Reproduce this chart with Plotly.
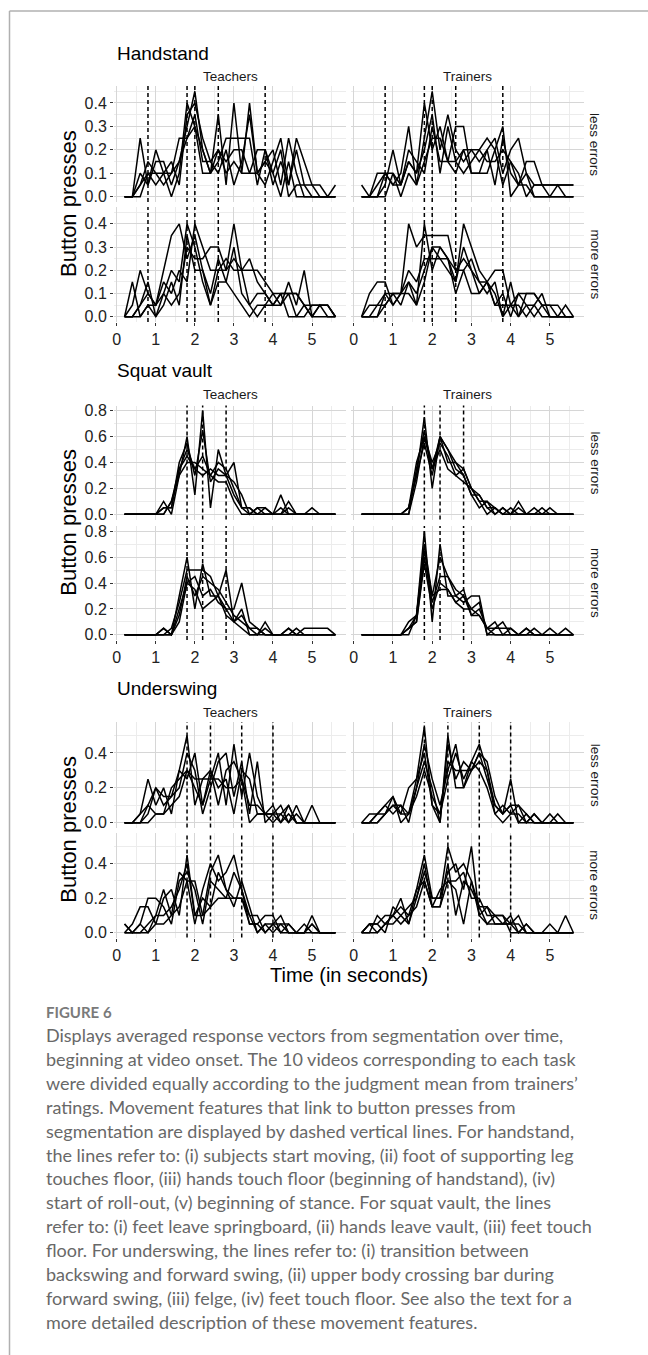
import plotly.graph_objects as go

# ---------------- data ----------------
TIME = [0.2, 0.4, 0.6, 0.8, 1.0, 1.2, 1.4, 1.6, 1.8, 2.0, 2.2, 2.4, 2.6, 2.8,
        3.0, 3.2, 3.4, 3.6, 3.8, 4.0, 4.2, 4.4, 4.6, 4.8, 5.0, 5.2, 5.4, 5.6]

TASKS = ["Handstand", "Squat vault", "Underswing"]
GROUPS = ["Teachers", "Trainers"]
ERRORS = ["less errors", "more errors"]

FEATURE_LINES = {
    "Handstand": [0.8, 1.8, 2.0, 2.6, 3.8],
    "Squat vault": [1.8, 2.2, 2.8],
    "Underswing": [1.8, 2.4, 3.2, 4.0],
}

X_TICKS = [0, 1, 2, 3, 4, 5]
Y_TICKS = {
    "Handstand": [0.0, 0.1, 0.2, 0.3, 0.4],
    "Squat vault": [0.0, 0.2, 0.4, 0.6, 0.8],
    "Underswing": [0.0, 0.2, 0.4],
}

hand_teachers_less = [
    [0, 0, 0.25, 0.05, 0.2, 0.1, 0, 0.1, 0.4, 0.3, 0.1, 0.1, 0.35, 0.05, 0.4, 0.1, 0.4, 0.1, 0.15, 0.2, 0.05, 0.25, 0.1, 0, 0, 0, 0, 0],
    [0, 0, 0.1, 0.05, 0.15, 0.15, 0.05, 0.15, 0.3, 0.45, 0.2, 0.1, 0.15, 0.25, 0.25, 0.25, 0.25, 0.05, 0.2, 0.1, 0.2, 0, 0.05, 0.05, 0.05, 0.05, 0, 0.05],
    [0, 0, 0.05, 0.15, 0.1, 0.05, 0.1, 0.25, 0.25, 0.35, 0.15, 0.15, 0.2, 0.15, 0.2, 0.2, 0.1, 0.2, 0.2, 0.05, 0.15, 0.05, 0.25, 0.15, 0.05, 0, 0, 0],
    [0, 0, 0.05, 0.1, 0.1, 0.1, 0.15, 0.05, 0.35, 0.4, 0.25, 0.15, 0.1, 0.2, 0.05, 0.15, 0.35, 0.1, 0.05, 0.15, 0.25, 0.05, 0.2, 0.05, 0, 0, 0, 0],
    [0, 0, 0, 0.1, 0.05, 0.1, 0.1, 0.15, 0.25, 0.3, 0.2, 0.1, 0.2, 0.1, 0.15, 0.1, 0.1, 0.1, 0.15, 0.1, 0, 0.15, 0, 0, 0, 0, 0, 0],
]
hand_trainers_less = [
    [0.05, 0, 0.05, 0.1, 0.1, 0.05, 0.15, 0.1, 0.4, 0.2, 0.3, 0.15, 0.3, 0.3, 0.1, 0.1, 0.1, 0.2, 0.3, 0, 0.05, 0.1, 0.05, 0.05, 0.05, 0.05, 0.05, 0.05],
    [0, 0, 0.1, 0.1, 0.05, 0.1, 0.3, 0.05, 0.25, 0.45, 0.2, 0.35, 0.2, 0.15, 0.2, 0.15, 0.2, 0.25, 0.1, 0.2, 0.25, 0.1, 0, 0, 0, 0, 0, 0],
    [0, 0, 0, 0.05, 0.2, 0.05, 0.2, 0.15, 0.1, 0.3, 0.15, 0.15, 0.15, 0.2, 0.2, 0.2, 0.15, 0.15, 0.2, 0.15, 0.05, 0.15, 0.15, 0.05, 0, 0.05, 0, 0],
    [0, 0, 0, 0.1, 0.05, 0.05, 0.15, 0.1, 0.2, 0.35, 0.1, 0.3, 0.15, 0.1, 0.15, 0.2, 0.25, 0.2, 0.05, 0.15, 0.1, 0, 0.05, 0.05, 0.05, 0.05, 0.05, 0.05],
    [0, 0, 0, 0, 0.1, 0, 0.1, 0.05, 0.15, 0.25, 0.25, 0.15, 0.1, 0.2, 0.1, 0.1, 0.2, 0.05, 0.25, 0.1, 0.05, 0.05, 0, 0, 0, 0, 0, 0],
]
hand_teachers_more = [
    [0, 0.15, 0, 0.05, 0.05, 0.2, 0.35, 0.4, 0.25, 0.35, 0.2, 0.1, 0.25, 0.15, 0.3, 0.1, 0.05, 0, 0.05, 0.1, 0.05, 0.1, 0, 0.05, 0, 0, 0, 0],
    [0, 0, 0.05, 0.15, 0, 0.1, 0.2, 0.15, 0.4, 0.3, 0.15, 0.05, 0.2, 0.2, 0.4, 0.2, 0.05, 0.1, 0.1, 0.05, 0.1, 0.1, 0.1, 0.05, 0.05, 0.05, 0.05, 0],
    [0, 0.05, 0.2, 0.1, 0.05, 0.15, 0.1, 0.2, 0.15, 0.4, 0.3, 0.2, 0.2, 0.25, 0.2, 0.2, 0.25, 0.15, 0.1, 0.05, 0.05, 0.15, 0.05, 0.2, 0, 0.05, 0.05, 0],
    [0, 0, 0.05, 0.1, 0.05, 0.1, 0.05, 0.1, 0.3, 0.25, 0.25, 0.3, 0.3, 0.2, 0.25, 0.2, 0.2, 0.2, 0.15, 0.1, 0.1, 0.1, 0.1, 0.05, 0, 0.05, 0, 0],
    [0, 0, 0, 0.05, 0, 0.05, 0.15, 0.05, 0.35, 0.2, 0.2, 0.05, 0.15, 0.15, 0.1, 0.05, 0, 0.05, 0.05, 0.05, 0.1, 0, 0, 0, 0.05, 0.05, 0.05, 0],
]
hand_trainers_more = [
    [0, 0.1, 0.15, 0.15, 0.05, 0.1, 0.15, 0.05, 0.4, 0.2, 0.3, 0.25, 0.15, 0.4, 0.3, 0.2, 0.15, 0.1, 0, 0.15, 0, 0.05, 0.05, 0.1, 0, 0, 0.05, 0],
    [0, 0, 0.05, 0.1, 0.05, 0.1, 0.4, 0.3, 0.35, 0.35, 0.35, 0.35, 0.2, 0.25, 0.2, 0.1, 0.15, 0.2, 0.2, 0.05, 0, 0.1, 0.1, 0.05, 0.05, 0, 0, 0],
    [0, 0.05, 0.05, 0.05, 0.1, 0.1, 0.2, 0.15, 0.25, 0.25, 0.25, 0.2, 0.15, 0.3, 0.2, 0.15, 0.15, 0.05, 0.1, 0, 0.1, 0.1, 0.1, 0.05, 0, 0, 0, 0],
    [0, 0, 0, 0.1, 0.1, 0.05, 0.15, 0.1, 0.2, 0.3, 0.3, 0.25, 0.2, 0.2, 0.1, 0.1, 0.15, 0.05, 0.05, 0.05, 0.05, 0, 0.05, 0, 0, 0, 0, 0],
    [0, 0, 0, 0.05, 0.1, 0.1, 0.1, 0.05, 0.15, 0.3, 0.25, 0.25, 0.1, 0.2, 0.25, 0.15, 0.1, 0.15, 0, 0.05, 0.1, 0.05, 0, 0.05, 0.05, 0.05, 0, 0],
]

squat_teachers_less = [
    [0, 0, 0, 0, 0, 0.1, 0, 0.3, 0.6, 0.15, 0.8, 0.05, 0.5, 0.3, 0.4, 0.05, 0.05, 0, 0, 0, 0.15, 0, 0, 0, 0, 0, 0, 0],
    [0, 0, 0, 0, 0, 0.05, 0.05, 0.4, 0.55, 0.3, 0.65, 0.25, 0.35, 0.3, 0.25, 0.15, 0, 0.05, 0.05, 0, 0, 0.1, 0, 0, 0, 0, 0, 0],
    [0, 0, 0, 0, 0, 0, 0.1, 0.35, 0.5, 0.35, 0.45, 0.3, 0.4, 0.35, 0.2, 0.05, 0.05, 0, 0, 0, 0, 0.05, 0, 0, 0.05, 0, 0, 0],
    [0, 0, 0, 0, 0, 0.05, 0.05, 0.35, 0.45, 0.35, 0.3, 0.35, 0.3, 0.3, 0.15, 0.05, 0, 0.05, 0, 0, 0, 0, 0, 0, 0, 0, 0, 0],
    [0, 0, 0, 0, 0, 0, 0.1, 0.3, 0.4, 0.4, 0.35, 0.3, 0.25, 0.25, 0.1, 0, 0, 0, 0.05, 0, 0.05, 0, 0, 0, 0, 0, 0, 0],
]
squat_trainers_less = [
    [0, 0, 0, 0, 0, 0, 0.05, 0.3, 0.75, 0.2, 0.6, 0.5, 0.4, 0.35, 0.2, 0.1, 0.1, 0, 0.05, 0, 0.1, 0, 0, 0.05, 0, 0, 0, 0],
    [0, 0, 0, 0, 0, 0, 0, 0.35, 0.65, 0.35, 0.6, 0.5, 0.35, 0.3, 0.15, 0.15, 0.05, 0, 0.05, 0, 0, 0, 0.05, 0, 0, 0, 0, 0],
    [0, 0, 0, 0, 0, 0, 0.05, 0.4, 0.6, 0.4, 0.55, 0.45, 0.3, 0.35, 0.2, 0.1, 0, 0.05, 0, 0, 0.05, 0, 0, 0, 0, 0, 0, 0],
    [0, 0, 0, 0, 0, 0, 0.05, 0.3, 0.55, 0.3, 0.6, 0.4, 0.4, 0.3, 0.15, 0.05, 0.1, 0.05, 0, 0.05, 0, 0, 0, 0, 0.05, 0, 0, 0],
    [0, 0, 0, 0, 0, 0, 0, 0.25, 0.6, 0.35, 0.5, 0.35, 0.3, 0.25, 0.2, 0.15, 0.05, 0.05, 0, 0, 0, 0, 0, 0, 0, 0, 0, 0],
]
squat_teachers_more = [
    [0, 0, 0, 0, 0, 0.05, 0, 0.3, 0.6, 0.2, 0.55, 0.3, 0.3, 0.5, 0.1, 0.2, 0, 0, 0.05, 0, 0, 0, 0, 0.05, 0.05, 0.05, 0.05, 0],
    [0, 0, 0, 0, 0, 0, 0.05, 0.25, 0.5, 0.5, 0.5, 0.45, 0.3, 0.2, 0.2, 0.4, 0.1, 0.05, 0, 0, 0, 0.05, 0, 0, 0, 0, 0, 0],
    [0, 0, 0, 0, 0, 0, 0, 0.15, 0.45, 0.3, 0.45, 0.4, 0.35, 0.25, 0.15, 0.1, 0.05, 0, 0.1, 0, 0, 0, 0.05, 0, 0, 0, 0, 0],
    [0, 0, 0, 0, 0, 0.05, 0, 0.2, 0.4, 0.45, 0.3, 0.35, 0.25, 0.2, 0.1, 0.15, 0.05, 0.05, 0, 0, 0, 0.05, 0, 0, 0, 0, 0, 0],
    [0, 0, 0, 0, 0, 0, 0, 0.1, 0.4, 0.35, 0.2, 0.25, 0.3, 0.15, 0.1, 0.05, 0, 0, 0, 0, 0, 0, 0, 0, 0, 0, 0, 0],
]
squat_trainers_more = [
    [0, 0, 0, 0, 0, 0, 0.05, 0.15, 0.8, 0.1, 0.7, 0.3, 0.3, 0.35, 0.15, 0.15, 0.05, 0.1, 0, 0.05, 0, 0.05, 0, 0, 0.05, 0, 0.05, 0],
    [0, 0, 0, 0, 0, 0, 0.1, 0.15, 0.7, 0.3, 0.6, 0.45, 0.3, 0.25, 0.3, 0.3, 0, 0.05, 0.1, 0, 0, 0, 0, 0, 0, 0, 0, 0],
    [0, 0, 0, 0, 0, 0, 0.05, 0.1, 0.6, 0.25, 0.45, 0.45, 0.35, 0.3, 0.15, 0.2, 0.05, 0.05, 0.05, 0.05, 0, 0, 0.05, 0, 0, 0, 0, 0],
    [0, 0, 0, 0, 0, 0, 0, 0.15, 0.65, 0.3, 0.35, 0.35, 0.25, 0.3, 0.2, 0.25, 0, 0, 0, 0, 0, 0.05, 0, 0, 0, 0, 0, 0],
    [0, 0, 0, 0, 0, 0, 0.05, 0.1, 0.55, 0.2, 0.4, 0.35, 0.25, 0.2, 0.2, 0.15, 0.05, 0, 0, 0, 0, 0, 0, 0, 0, 0, 0, 0],
]

under_teachers_less = [
    [0, 0, 0.05, 0.25, 0.1, 0.2, 0.05, 0.3, 0.5, 0.1, 0.25, 0.25, 0.4, 0.1, 0.45, 0.15, 0.4, 0.15, 0.05, 0.1, 0, 0.1, 0, 0, 0.1, 0, 0, 0],
    [0, 0, 0.05, 0.1, 0.2, 0.15, 0.15, 0.2, 0.4, 0.3, 0.05, 0.2, 0.35, 0.4, 0.15, 0.35, 0.05, 0.35, 0, 0.05, 0.1, 0, 0.1, 0, 0, 0, 0, 0],
    [0, 0, 0, 0.05, 0.2, 0.1, 0.15, 0.3, 0.25, 0.4, 0.1, 0.3, 0.1, 0.3, 0.35, 0.25, 0.1, 0.1, 0.05, 0, 0.05, 0.1, 0, 0, 0, 0, 0, 0],
    [0, 0, 0, 0.1, 0.05, 0.05, 0.2, 0.25, 0.3, 0.25, 0.25, 0.3, 0.2, 0.25, 0.05, 0.3, 0.25, 0.05, 0.05, 0.05, 0, 0.05, 0, 0, 0, 0, 0, 0],
    [0, 0, 0, 0, 0.05, 0.05, 0.1, 0.15, 0.3, 0.2, 0.1, 0.25, 0.25, 0.2, 0.2, 0.25, 0, 0.05, 0.05, 0.05, 0.05, 0, 0.05, 0, 0, 0, 0, 0],
]
under_trainers_less = [
    [0, 0, 0.05, 0.1, 0.15, 0.05, 0.05, 0.25, 0.55, 0.1, 0, 0.5, 0.2, 0.2, 0.35, 0.45, 0.3, 0.1, 0.05, 0.25, 0, 0, 0.05, 0, 0, 0, 0, 0],
    [0, 0.05, 0.05, 0.1, 0.05, 0.1, 0, 0.2, 0.45, 0.25, 0.1, 0.3, 0.45, 0.2, 0.3, 0.4, 0.35, 0.15, 0.05, 0.1, 0.1, 0, 0, 0, 0.05, 0, 0, 0],
    [0, 0, 0, 0.05, 0.15, 0, 0.05, 0.2, 0.35, 0.2, 0, 0.45, 0.25, 0.35, 0.3, 0.35, 0.3, 0.05, 0.1, 0.05, 0.1, 0.05, 0, 0, 0, 0.05, 0, 0],
    [0, 0, 0.05, 0.05, 0.1, 0.05, 0.2, 0.25, 0.4, 0.1, 0.05, 0.35, 0.3, 0.3, 0.3, 0.4, 0.25, 0.1, 0.05, 0.1, 0, 0.05, 0, 0, 0, 0, 0, 0],
    [0, 0, 0, 0.05, 0.1, 0.1, 0.05, 0.15, 0.3, 0.15, 0.05, 0.25, 0.4, 0.25, 0.35, 0.3, 0.2, 0.05, 0, 0.05, 0.05, 0, 0.05, 0, 0, 0, 0, 0],
]
under_teachers_more = [
    [0.05, 0, 0.05, 0, 0.1, 0.25, 0.1, 0.35, 0.3, 0.05, 0.25, 0.4, 0.3, 0.35, 0.45, 0.25, 0.1, 0.1, 0, 0.05, 0.1, 0, 0, 0, 0.1, 0, 0, 0],
    [0, 0.05, 0.15, 0.15, 0.05, 0.2, 0.25, 0.1, 0.45, 0.1, 0.1, 0.35, 0.45, 0.25, 0.15, 0.3, 0.15, 0, 0.05, 0, 0.05, 0.05, 0, 0, 0.05, 0, 0, 0],
    [0, 0, 0.05, 0.2, 0.2, 0.15, 0.05, 0.3, 0.35, 0.25, 0.05, 0.3, 0.25, 0.2, 0.35, 0.25, 0.05, 0.05, 0.1, 0.1, 0, 0.05, 0, 0.05, 0, 0, 0, 0],
    [0.05, 0, 0, 0.05, 0.1, 0.1, 0.15, 0.25, 0.4, 0.1, 0.2, 0.15, 0.35, 0.25, 0.2, 0.2, 0.05, 0.05, 0, 0.05, 0.05, 0, 0, 0, 0.05, 0, 0, 0],
    [0, 0, 0, 0, 0.05, 0.05, 0.1, 0.15, 0.3, 0.3, 0.1, 0.15, 0.2, 0.2, 0.2, 0.2, 0.1, 0, 0.05, 0.05, 0, 0, 0, 0, 0, 0, 0, 0],
]
under_trainers_more = [
    [0, 0.05, 0.05, 0.1, 0.1, 0.2, 0.05, 0.25, 0.45, 0.2, 0.2, 0.5, 0.35, 0.4, 0.3, 0.15, 0.15, 0.1, 0.1, 0.05, 0.1, 0, 0, 0, 0, 0, 0, 0],
    [0, 0.05, 0.05, 0, 0.15, 0.1, 0.15, 0.2, 0.35, 0.2, 0.2, 0.35, 0.4, 0.25, 0.5, 0.1, 0.15, 0.05, 0.05, 0.1, 0, 0.05, 0, 0, 0.05, 0, 0.1, 0],
    [0, 0, 0.1, 0.05, 0.1, 0.15, 0.1, 0.25, 0.3, 0.15, 0.25, 0.3, 0.3, 0.35, 0.2, 0.2, 0.1, 0.1, 0.05, 0.05, 0.05, 0, 0, 0, 0, 0, 0, 0],
    [0, 0.05, 0, 0.05, 0.05, 0.1, 0.05, 0.2, 0.4, 0.15, 0.15, 0.4, 0.1, 0.3, 0.25, 0.15, 0.05, 0.1, 0.1, 0, 0, 0.05, 0, 0, 0, 0, 0, 0],
    [0, 0, 0, 0.05, 0.1, 0.05, 0.1, 0.15, 0.3, 0.15, 0.15, 0.3, 0.25, 0.05, 0.3, 0.1, 0.05, 0.05, 0.05, 0.05, 0, 0, 0, 0, 0, 0, 0, 0],
]

SERIES = {
    ("Handstand", "Teachers", "less errors"): hand_teachers_less,
    ("Handstand", "Trainers", "less errors"): hand_trainers_less,
    ("Handstand", "Teachers", "more errors"): hand_teachers_more,
    ("Handstand", "Trainers", "more errors"): hand_trainers_more,
    ("Squat vault", "Teachers", "less errors"): squat_teachers_less,
    ("Squat vault", "Trainers", "less errors"): squat_trainers_less,
    ("Squat vault", "Teachers", "more errors"): squat_teachers_more,
    ("Squat vault", "Trainers", "more errors"): squat_trainers_more,
    ("Underswing", "Teachers", "less errors"): under_teachers_less,
    ("Underswing", "Trainers", "less errors"): under_trainers_less,
    ("Underswing", "Teachers", "more errors"): under_teachers_more,
    ("Underswing", "Trainers", "more errors"): under_trainers_more,
}

CAPTION_LABEL = "FIGURE 6"
CAPTION_LINES = [
    "Displays averaged response vectors from segmentation over time,",
    "beginning at video onset. The 10 videos corresponding to each task",
    "were divided equally according to the judgment mean from trainers\u2019",
    "ratings. Movement features that link to button presses from",
    "segmentation are displayed by dashed vertical lines. For handstand,",
    "the lines refer to: (i) subjects start moving, (ii) foot of supporting leg",
    "touches floor, (iii) hands touch floor (beginning of handstand), (iv)",
    "start of roll-out, (v) beginning of stance. For squat vault, the lines",
    "refer to: (i) feet leave springboard, (ii) hands leave vault, (iii) feet touch",
    "floor. For underswing, the lines refer to: (i) transition between",
    "backswing and forward swing, (ii) upper body crossing bar during",
    "forward swing, (iii) felge, (iv) feet touch floor. See also the text for a",
    "more detailed description of these movement features.",
]

# ---------------- layout (pixels) ----------------
W, H = 648, 1355
COL_PX = {"Teachers": (114, 346), "Trainers": (351, 584)}
ROW_PX = {
    "Handstand": {"less errors": (86, 202), "more errors": (207, 322)},
    "Squat vault": {"less errors": (405.5, 519.5), "more errors": (526, 640)},
    "Underswing": {"less errors": (722, 827.5), "more errors": (833, 937.5)},
}
Y_RANGE = {
    "Handstand": [-0.0225, 0.4725],
    "Squat vault": [-0.04, 0.84],
    "Underswing": [-0.0275, 0.5775],
}
Y_MINOR = {"Handstand": 0.05, "Squat vault": 0.1, "Underswing": 0.1}
X_RANGE = [-0.07, 5.87]
TITLE_Y = {"Handstand": 53, "Squat vault": 370.5, "Underswing": 688.5}
STRIP_Y = {"Handstand": 76.5, "Squat vault": 394, "Underswing": 712}

FONT = "Liberation Sans, Arial, sans-serif"
CAP_FONT = "Lato, Open Sans, sans-serif"


def px_x(p):
    return p / W


def px_y(p):
    return 1 - p / H


fig = go.Figure()
layout = {}
shapes = []
annotations = []

idx = 0
for task in TASKS:
    yt = Y_TICKS[task]
    lo, hi = Y_RANGE[task]
    step = Y_MINOR[task]
    minor_vals = [round(v + step, 3) for v in yt if v + step < hi]
    minor_vals = [m for m in minor_vals if m not in yt]
    for err in ERRORS:
        for grp in GROUPS:
            idx += 1
            sx = "" if idx == 1 else str(idx)
            x0p, x1p = COL_PX[grp]
            y0p, y1p = ROW_PX[task][err]
            bottom = err == "more errors"
            left = grp == "Teachers"
            layout["xaxis" + sx] = dict(
                domain=[px_x(x0p), px_x(x1p)], anchor="y" + sx, range=X_RANGE,
                tickvals=X_TICKS, ticktext=[str(v) for v in X_TICKS],
                showticklabels=bottom, ticks="outside" if bottom else "",
                ticklen=3, tickwidth=1, tickcolor="#333333",
                tickfont=dict(family=FONT, size=16, color="#222222"),
                showgrid=True, gridcolor="#d6d6d6", gridwidth=1,
                minor=dict(tickvals=[0.5, 1.5, 2.5, 3.5, 4.5, 5.5], showgrid=True,
                           gridcolor="#ececec", gridwidth=0.8),
                zeroline=False, showline=False, fixedrange=True, automargin=False,
            )
            layout["yaxis" + sx] = dict(
                domain=[px_y(y1p), px_y(y0p)], anchor="x" + sx, range=Y_RANGE[task],
                tickvals=yt, ticktext=["%.1f" % v for v in yt],
                showticklabels=left, ticks="outside" if left else "",
                ticklen=3, tickwidth=1, tickcolor="#333333",
                tickfont=dict(family=FONT, size=16, color="#222222"),
                showgrid=True, gridcolor="#d6d6d6", gridwidth=1,
                minor=dict(tickvals=minor_vals, showgrid=True,
                           gridcolor="#ececec", gridwidth=0.8),
                zeroline=False, showline=False, fixedrange=True, automargin=False,
            )
            for series in SERIES[(task, grp, err)]:
                fig.add_trace(go.Scatter(
                    x=TIME, y=series, mode="lines",
                    line=dict(color="black", width=1.5),
                    xaxis="x" + sx, yaxis="y" + sx, showlegend=False,
                    hoverinfo="skip",
                ))
            for v in FEATURE_LINES[task]:
                shapes.append(dict(
                    type="line", xref="x" + sx, yref="y" + sx + " domain",
                    x0=v, x1=v, y0=0, y1=1,
                    line=dict(color="black", width=1.5, dash="4px,3px"),
                    layer="above",
                ))
            # right-side facet strip
            if not left:
                annotations.append(dict(
                    text=err, x=px_x(595), y=px_y((y0p + y1p) / 2),
                    xref="paper", yref="paper", showarrow=False,
                    textangle=90, xanchor="center", yanchor="middle",
                    font=dict(family=FONT, size=13.5, color="#1a1a1a"),
                ))
    # task title, column strips, y title
    annotations.append(dict(
        text=task, x=px_x(115), y=px_y(TITLE_Y[task]), xref="paper", yref="paper",
        showarrow=False, xanchor="left", yanchor="middle",
        font=dict(family=FONT, size=19, color="black"),
    ))
    for grp in GROUPS:
        x0p, x1p = COL_PX[grp]
        annotations.append(dict(
            text=grp, x=px_x((x0p + x1p) / 2), y=px_y(STRIP_Y[task]),
            xref="paper", yref="paper", showarrow=False,
            xanchor="center", yanchor="middle",
            font=dict(family=FONT, size=13.5, color="#1a1a1a"),
        ))
    ytop = ROW_PX[task]["less errors"][0]
    ybot = ROW_PX[task]["more errors"][1]
    annotations.append(dict(
        text="Button presses", x=px_x(69), y=px_y((ytop + ybot) / 2),
        xref="paper", yref="paper", showarrow=False, textangle=-90,
        xanchor="center", yanchor="middle",
        font=dict(family=FONT, size=22, color="black"),
    ))

annotations.append(dict(
    text="Time (in seconds)", x=px_x(349), y=px_y(975), xref="paper", yref="paper",
    showarrow=False, xanchor="center", yanchor="middle",
    font=dict(family=FONT, size=20, color="black"),
))

# caption
annotations.append(dict(
    text="<b>" + CAPTION_LABEL + "</b>", x=px_x(44), y=px_y(1012), xref="paper", yref="paper",
    showarrow=False, xanchor="left", yanchor="middle",
    font=dict(family=CAP_FONT, size=15, color="#7a7a7a"),
))
for i, line in enumerate(CAPTION_LINES):
    annotations.append(dict(
        text=line, x=px_x(44), y=px_y(1035 + i * 23.9), xref="paper", yref="paper",
        showarrow=False, xanchor="left", yanchor="middle",
        font=dict(family=CAP_FONT, size=18, color="#686868"),
    ))

# frame
shapes.append(dict(type="line", xref="paper", yref="paper", x0=px_x(9.5), x1=1,
                   y0=px_y(11), y1=px_y(11), line=dict(color="#b0b0b0", width=1.5)))
shapes.append(dict(type="line", xref="paper", yref="paper", x0=px_x(9.5), x1=px_x(9.5),
                   y0=0, y1=px_y(11), line=dict(color="#b0b0b0", width=1.5)))

fig.update_layout(
    width=W, height=H, margin=dict(l=0, r=0, t=0, b=0),
    paper_bgcolor="white", plot_bgcolor="white",
    shapes=shapes, annotations=annotations, showlegend=False,
    **layout,
)

fig.write_html("out.html", config={"displayModeBar": False})
